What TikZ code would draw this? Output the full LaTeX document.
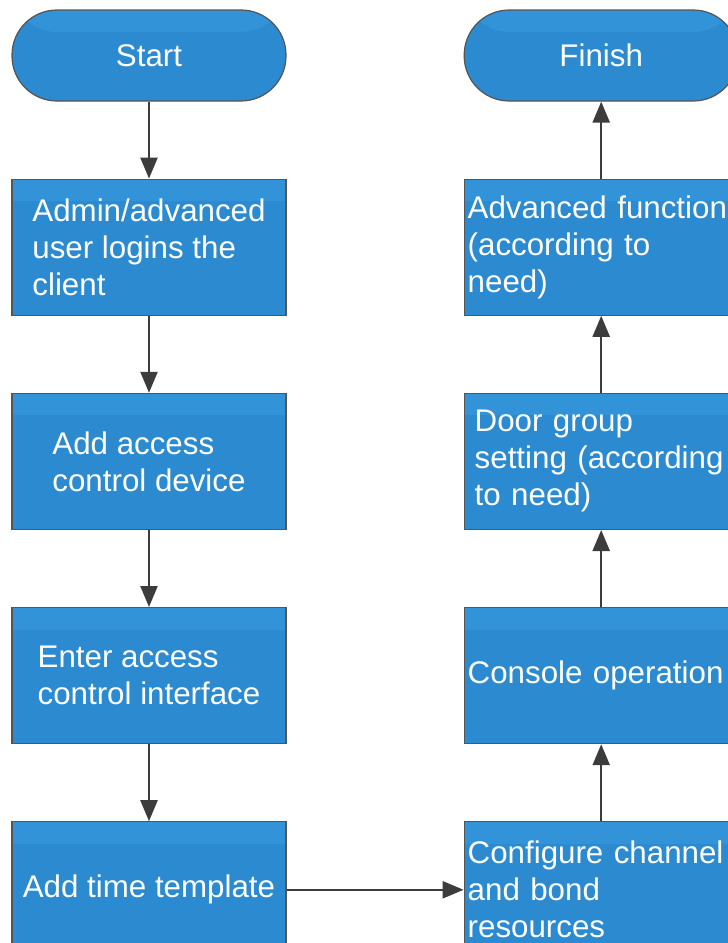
\documentclass[tikz,border=0pt]{standalone}
\usepackage{fontspec}
\setmainfont{Liberation Sans}
\usepackage{tikz}
\usetikzlibrary{positioning,arrows.meta}
\definecolor{boxblue}{RGB}{43,138,208}
\definecolor{boxtop}{RGB}{50,147,216}
\definecolor{edgegray}{RGB}{85,85,85}
\definecolor{arrowgray}{RGB}{60,60,60}

\begin{document}
\begin{tikzpicture}[node distance=77pt,
  stepbox/.style={draw=edgegray, line width=1.2pt, fill=boxblue, text=white,
    minimum width=274pt, minimum height=136pt, align=left,
    font=\fontsize{31.3}{37}\selectfont,
    path picture={\fill[boxtop] (path picture bounding box.north west) rectangle ([yshift=-22pt]path picture bounding box.north east);}},
  sidebox/.style={stepbox, inner xsep=3.5pt, text width=267pt},
  endbox/.style={stepbox, minimum height=91pt, rounded corners=45pt},
  flow/.style={-{Triangle[length=21pt,width=17pt]}, line width=2.3pt, arrowgray}]
\path[use as bounding box, clip] (0,0) rectangle (728pt,-943pt);

% Nodes
\node[endbox] (start) at (149pt,-55.5pt) {Start};
\node[stepbox, below=of start] (login) {Admin/advanced\\user logins the\\client};
\node[stepbox, below=of login] (adddev) {Add access\\control device};
\node[stepbox, below=of adddev] (enter) {Enter access\\control interface};
\node[stepbox, below=of enter] (addtime) {Add time template};

\node[sidebox, right=177pt of addtime] (config) {Configure channel\\and bond\\resources};
\node[sidebox, above=of config] (console) {Console operation};
\node[sidebox, above=of console] (door) {\hspace*{7pt}Door group\\\hspace*{7pt}setting (according\\\hspace*{7pt}to need)};
\node[sidebox, above=of door] (adv) {Advanced function\\(according to\\need)};
\node[endbox, above=of adv] (finish) {Finish};

% Arrows
\draw[flow] (start) -- (login);
\draw[flow] (login) -- (adddev);
\draw[flow] (adddev) -- (enter);
\draw[flow] (enter) -- (addtime);
\draw[flow] (addtime) -- (config);
\draw[flow] (config) -- (console);
\draw[flow] (console) -- (door);
\draw[flow] (door) -- (adv);
\draw[flow] (adv) -- (finish);

\end{tikzpicture}
\end{document}
